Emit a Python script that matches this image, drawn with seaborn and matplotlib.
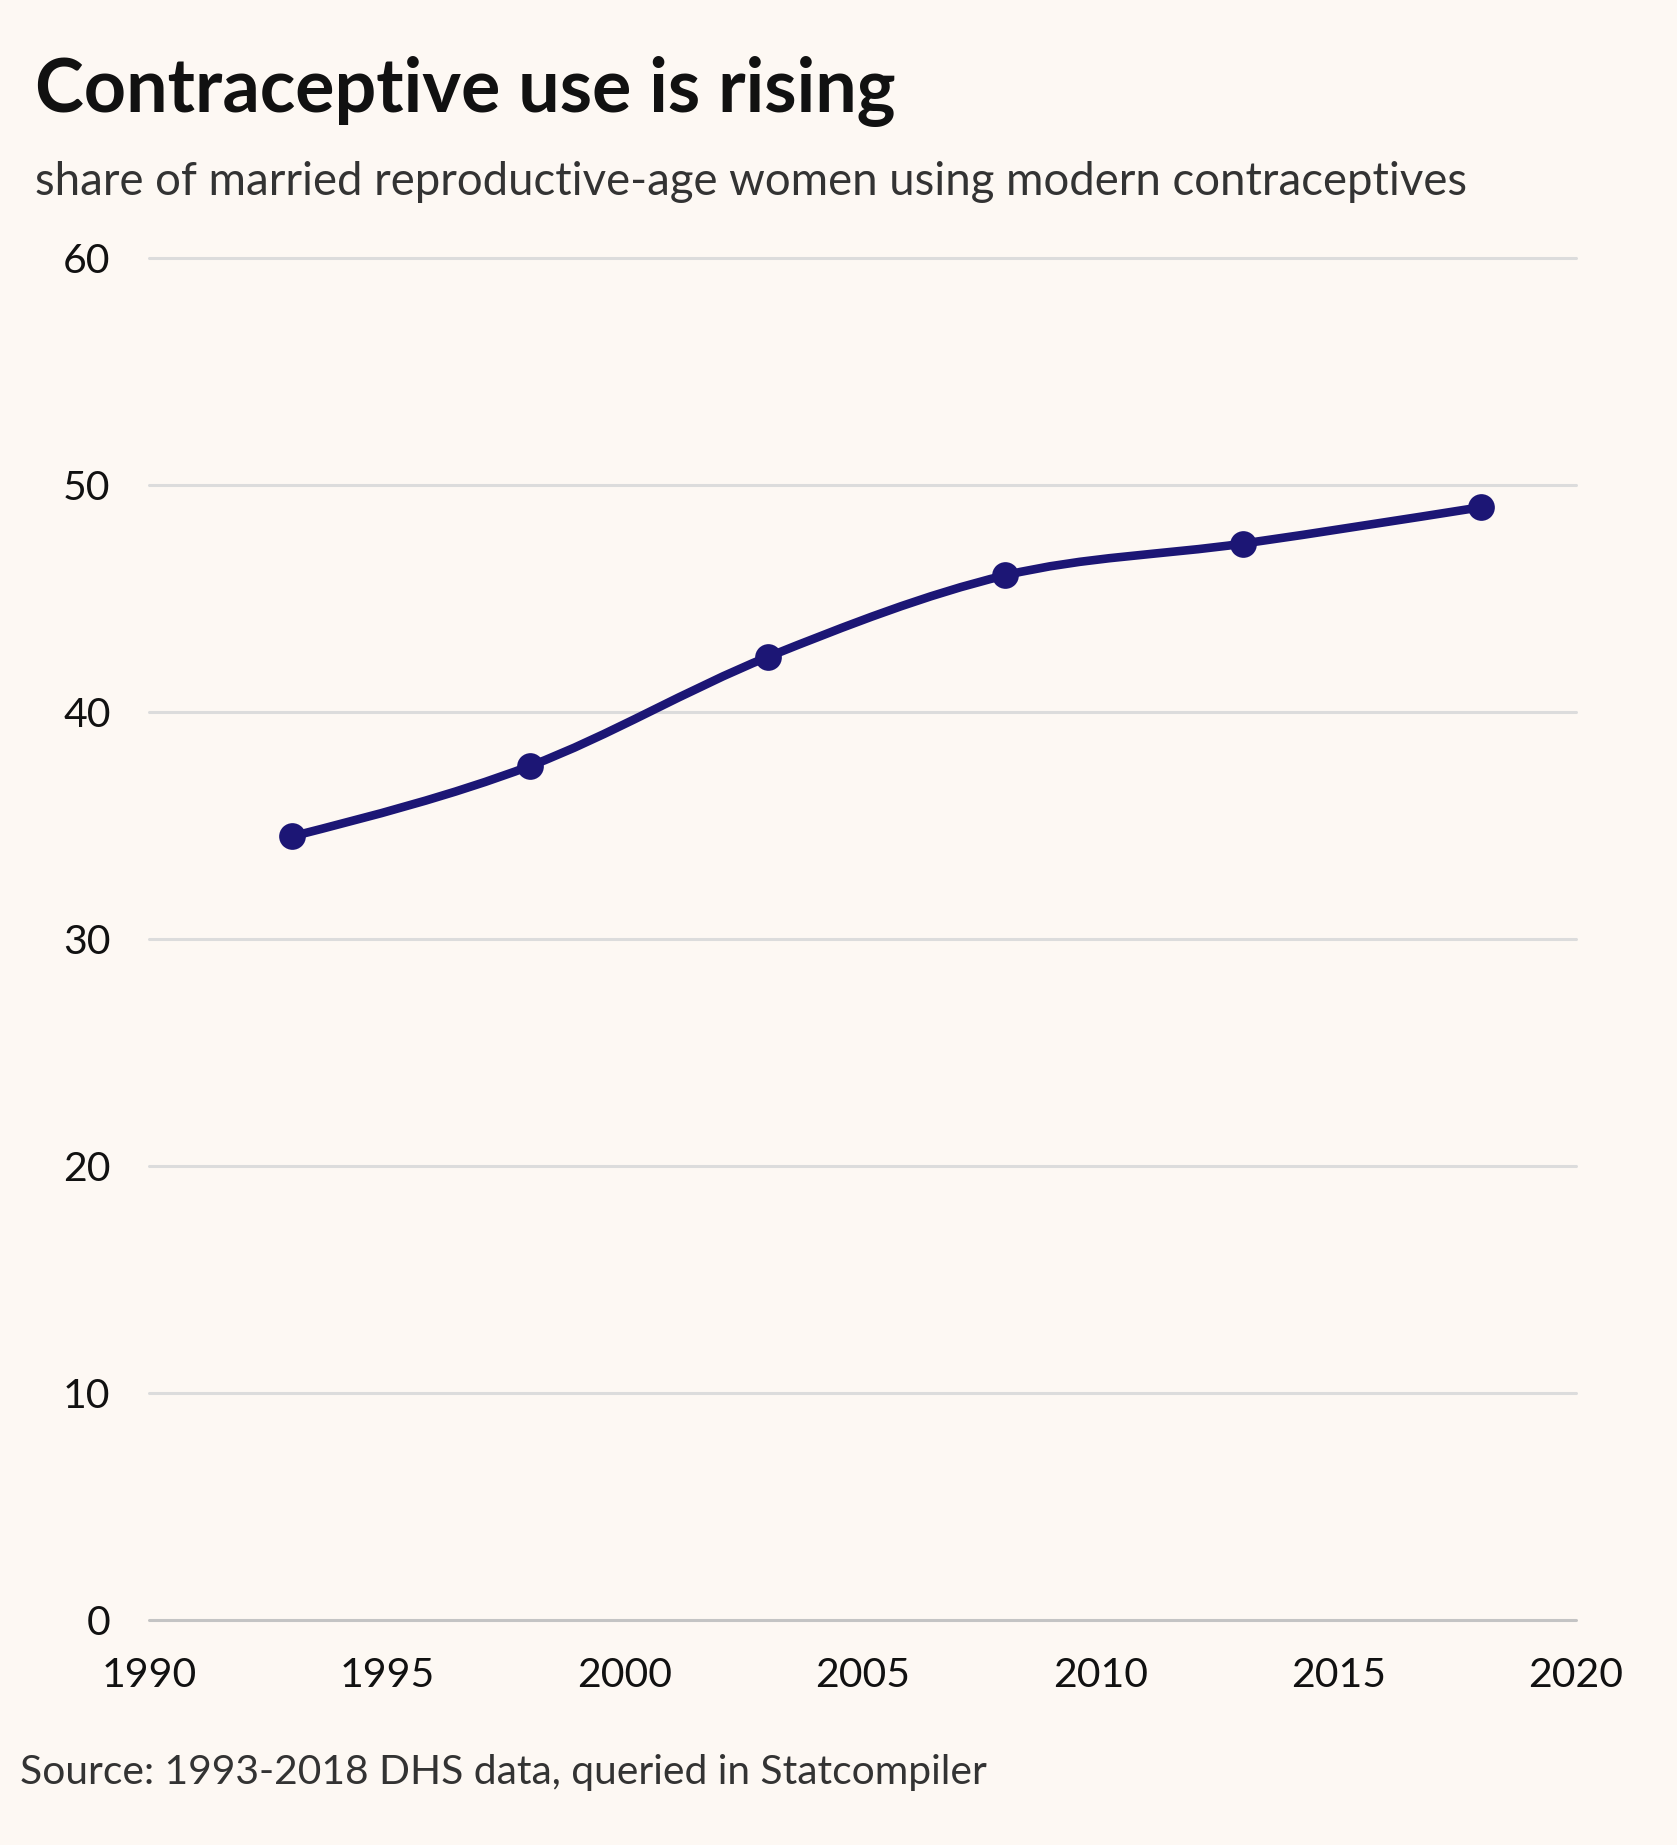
import numpy as np
import pandas as pd
import matplotlib
matplotlib.use("Agg")
import matplotlib.pyplot as plt
from matplotlib.path import Path
from matplotlib.patches import PathPatch
import seaborn as sns

years = [1993, 1998, 2003, 2008, 2013, 2018]
share = [34.5, 37.6, 42.4, 46.0, 47.4, 49.0]
y_ticks = [0, 10, 20, 30, 40, 50, 60]
x_ticks = [1990, 1995, 2000, 2005, 2010, 2015, 2020]

title = "Contraceptive use is rising"
subtitle = "share of married reproductive-age women using modern contraceptives"
source = "Source: 1993-2018 DHS data, queried in Statcompiler"

BG = "#fdf8f3"
LINE = "#1c1675"
FONT = ["Lato", "DejaVu Sans"]

sns.set_theme(style="white")
plt.rcParams["font.family"] = FONT

df = pd.DataFrame({"year": years, "share": share})

fig = plt.figure(figsize=(16.77, 18.45), dpi=100, facecolor=BG)
ax = fig.add_axes([0.0891, 0.1222, 0.9397 - 0.0891, 0.8604 - 0.1222])
ax.set_facecolor(BG)


def monotone_path(xs, ys):
    xs = np.asarray(xs, float)
    ys = np.asarray(ys, float)
    n = len(xs)
    h = np.diff(xs)
    d = np.diff(ys) / h
    m = np.zeros(n)
    for i in range(1, n - 1):
        if d[i - 1] * d[i] <= 0:
            m[i] = 0
        else:
            p = (d[i - 1] * h[i] + d[i] * h[i - 1]) / (h[i - 1] + h[i])
            m[i] = (np.sign(d[i - 1]) + np.sign(d[i])) * min(abs(d[i - 1]), abs(d[i]), 0.5 * abs(p))
    m[0] = (3 * d[0] - m[1]) / 2 if n > 2 else d[0]
    m[-1] = (3 * d[-1] - m[-2]) / 2 if n > 2 else d[-1]
    verts = [(xs[0], ys[0])]
    codes = [Path.MOVETO]
    for i in range(n - 1):
        dx = h[i] / 3
        verts += [(xs[i] + dx, ys[i] + m[i] * dx),
                  (xs[i + 1] - dx, ys[i + 1] - m[i + 1] * dx),
                  (xs[i + 1], ys[i + 1])]
        codes += [Path.CURVE4] * 3
    return Path(verts, codes)


for yt in y_ticks:
    ax.axhline(yt, color="#c4c4c4" if yt == 0 else "#dcdcdc",
               lw=2.2, zorder=1, clip_on=False)

ax.add_patch(PathPatch(monotone_path(df["year"], df["share"]), facecolor="none",
                       edgecolor=LINE, lw=6.2, capstyle="round", joinstyle="round", zorder=3))
sns.scatterplot(data=df, x="year", y="share", ax=ax, color=LINE, s=370,
                edgecolor=LINE, linewidth=0, zorder=4, clip_on=False)

ax.set_xlim(1990, 2020)
ax.set_ylim(0, 60)
ax.set_xticks(x_ticks)
ax.set_yticks(y_ticks)
ax.set_xticklabels([str(v) for v in x_ticks])
ax.set_yticklabels([str(v) for v in y_ticks])
ax.tick_params(axis="both", length=0, labelsize=29.5, colors="#111111")
ax.tick_params(axis="y", pad=28)
ax.tick_params(axis="x", pad=27)
ax.set_xlabel("")
ax.set_ylabel("")
for s in ax.spines.values():
    s.set_visible(False)

fig.text(35 / 1677, 1 - 112 / 1845, title, fontsize=53, fontweight="bold",
         color="#111111", ha="left", va="baseline")
fig.text(35 / 1677, 1 - 195 / 1845, subtitle, fontsize=32.8,
         color="#333333", ha="left", va="baseline")
fig.text(20 / 1677, 1 - 1784 / 1845, source, fontsize=29.3,
         color="#333333", ha="left", va="baseline")

fig.savefig("out.png", dpi=100, facecolor=BG)
